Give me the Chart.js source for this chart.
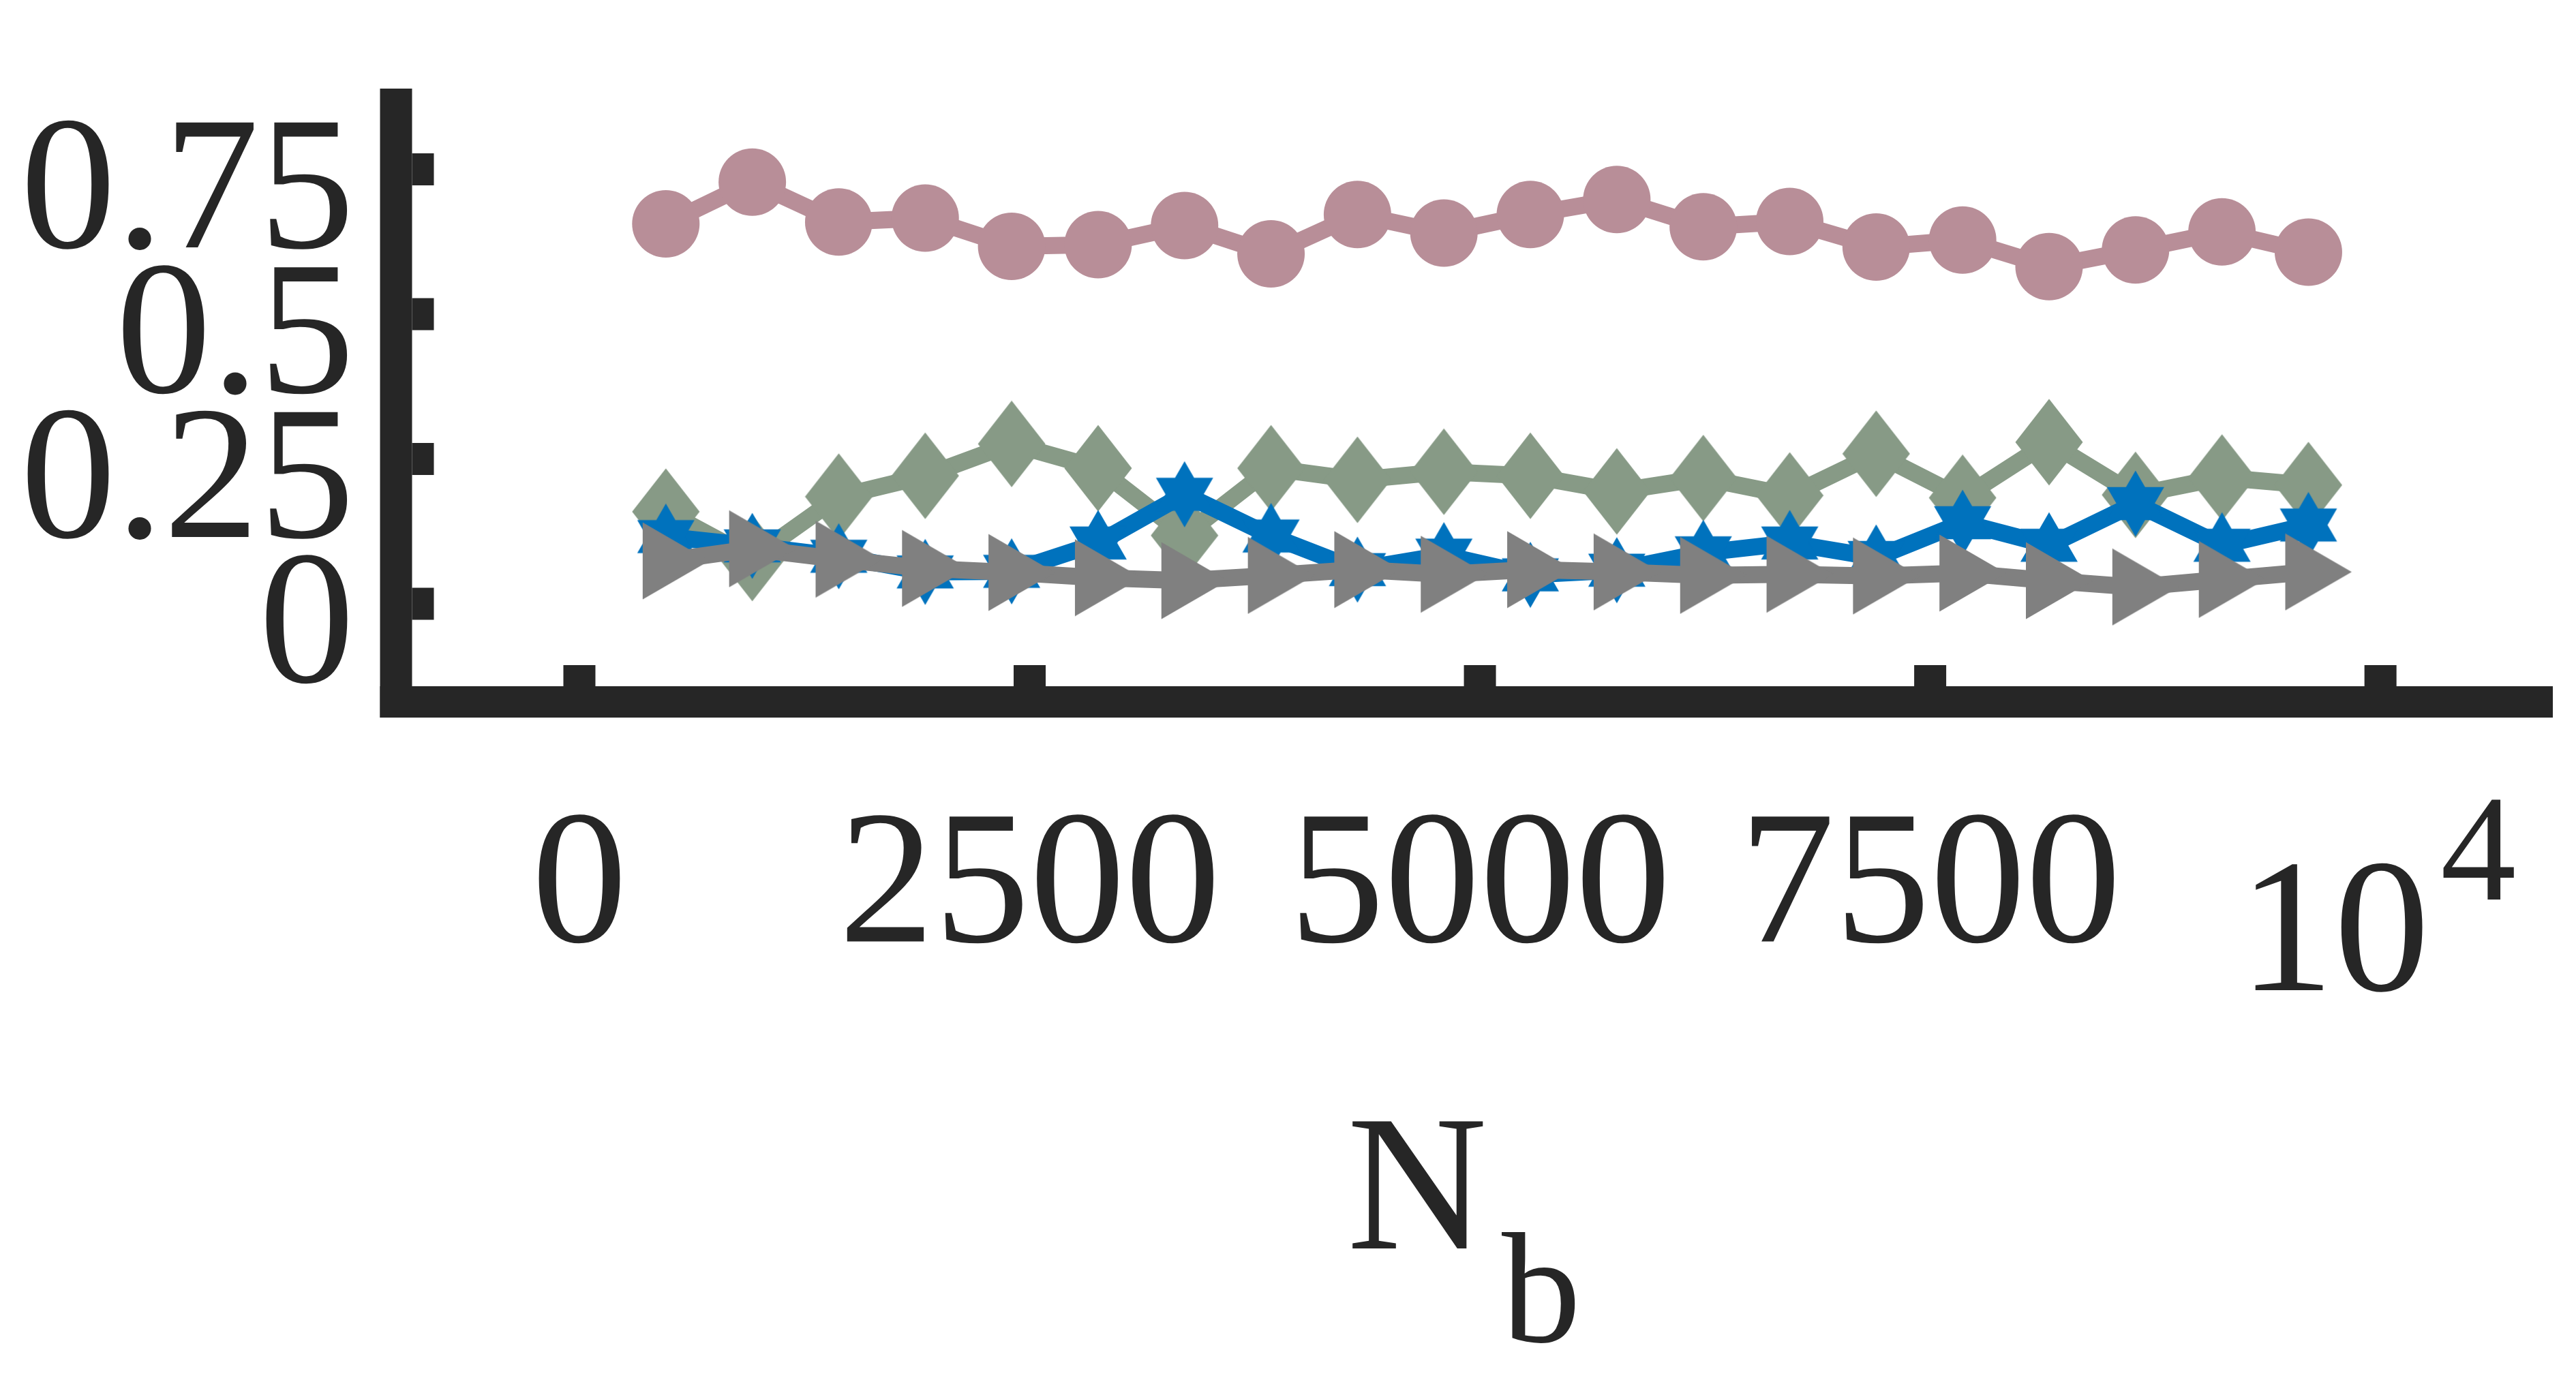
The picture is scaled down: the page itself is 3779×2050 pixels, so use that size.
<!DOCTYPE html>
<html><head><meta charset="utf-8">
<script src="https://cdn.jsdelivr.net/npm/chart.js@4.4.0/dist/chart.umd.min.js"></script>
<style>html,body{margin:0;padding:0;background:#fff;overflow:hidden}canvas{display:block}</style>
</head><body>
<canvas id="c" width="3779" height="2050" style="width:3779px;height:2050px"></canvas>
<script>
// ---- data ----
const nb = [480, 960, 1440, 1920, 2400, 2880, 3360, 3840, 4320, 4800, 5280, 5760, 6240, 6720, 7200, 7680, 8160, 8640, 9120, 9600];
const seriesCircle   = [0.656, 0.728, 0.659, 0.666, 0.617, 0.620, 0.653, 0.604, 0.672, 0.640, 0.672, 0.698, 0.651, 0.660, 0.616, 0.628, 0.582, 0.611, 0.642, 0.607];
const seriesDiamond  = [0.159, 0.079, 0.185, 0.221, 0.276, 0.234, 0.118, 0.234, 0.214, 0.228, 0.221, 0.194, 0.217, 0.187, 0.259, 0.183, 0.279, 0.188, 0.218, 0.205];
const seriesHexagram = [0.116, 0.100, 0.082, 0.055, 0.056, 0.105, 0.189, 0.117, 0.059, 0.084, 0.050, 0.058, 0.088, 0.105, 0.080, 0.140, 0.101, 0.173, 0.101, 0.136];
const seriesTriangle = [0.074, 0.095, 0.077, 0.061, 0.054, 0.045, 0.040, 0.049, 0.059, 0.051, 0.059, 0.055, 0.049, 0.051, 0.048, 0.053, 0.040, 0.029, 0.042, 0.055];
const xTicks = [0, 2500, 5000, 7500, 10000];
const xTickLabels = ['0', '2500', '5000', '7500', ''];
const xExponentBase = '10', xExponent = '4';
const yTicks = [0, 0.25, 0.5, 0.75];
const yTickLabels = ['0', '0.25', '0.5', '0.75'];
const xTitleMain = 'N', xTitleSub = 'b';

// ---- styles ----
const PINK = '#B88E98', GREEN = '#879A86', BLUE = '#0072BD', GRAY = '#808080', AXIS = '#262626';
const FONT = 'Liberation Serif';

function makeMarker(w, h, color, path) {
  const c = document.createElement('canvas');
  c.width = w; c.height = h;
  const g = c.getContext('2d');
  g.fillStyle = color; g.beginPath(); path(g); g.closePath(); g.fill();
  return c;
}
const diamondMk = makeMarker(100, 128, GREEN, g => { g.moveTo(50, 0.5); g.lineTo(99.5, 64); g.lineTo(50, 127.5); g.lineTo(0.5, 64); });
const hexMk = makeMarker(88, 98, BLUE, g => {
  const cx = 44, cy = 49, R = 48.5, r = R / Math.sqrt(3);
  for (let k = 0; k < 12; k++) {
    const a = -Math.PI / 2 + k * Math.PI / 6, rad = k % 2 === 0 ? R : r;
    const x = cx + rad * Math.cos(a), y = cy + rad * Math.sin(a);
    if (k) g.lineTo(x, y); else g.moveTo(x, y);
  }
});
const triMk = makeMarker(128, 114, GRAY, g => { g.moveTo(30, 0.5); g.lineTo(127.5, 57); g.lineTo(30, 113.5); });

function pts(ys) { return nb.map((x, i) => ({ x: x, y: ys[i] })); }

const axesPlugin = {
  id: 'axesPlugin',
  afterDraw(chart) {
    const ctx = chart.ctx, ca = chart.chartArea, xs = chart.scales.x, ys = chart.scales.y;
    ctx.save();
    ctx.fillStyle = AXIS;
    ctx.fillRect(ca.left - 23.5, ca.top, 47, ca.bottom + 23 - ca.top);
    ctx.fillRect(ca.left - 23.5, ca.bottom - 23, ca.right - ca.left + 23.5, 46);
    yTicks.forEach(v => { const p = ys.getPixelForValue(v); ctx.fillRect(ca.left + 23.5, p - 23.5, 32, 47); });
    xTicks.forEach(v => { const p = xs.getPixelForValue(v); ctx.fillRect(p - 23.5, ca.bottom - 23 - 31, 47, 31); });
    // exponent label at the last tick
    const pe = xs.getPixelForValue(xTicks[xTicks.length - 1]);
    ctx.textAlign = 'left'; ctx.textBaseline = 'alphabetic';
    ctx.font = '280px "' + FONT + '"';
    ctx.fillText(xExponentBase, pe - 208, ca.bottom + 423);
    ctx.font = '222px "' + FONT + '"';
    ctx.fillText(xExponent, pe + 88, ca.bottom + 290);
    // axis title N_b
    const cx = (ca.left + ca.right) / 2;
    ctx.font = '285px "' + FONT + '"';
    ctx.fillText(xTitleMain, cx - 187, ca.bottom + 802);
    ctx.font = '232px "' + FONT + '"';
    ctx.fillText(xTitleSub, cx + 40, ca.bottom + 939);
    ctx.restore();
  }
};

new Chart(document.getElementById('c'), {
  type: 'line',
  data: {
    datasets: [
      { data: pts(seriesTriangle), borderColor: GRAY, backgroundColor: GRAY, borderWidth: 25, pointStyle: triMk, pointRadius: 50, pointBorderWidth: 0, order: 1 },
      { data: pts(seriesHexagram), borderColor: BLUE, backgroundColor: BLUE, borderWidth: 25, pointStyle: hexMk, pointRadius: 50, pointBorderWidth: 0, order: 2 },
      { data: pts(seriesDiamond), borderColor: GREEN, backgroundColor: GREEN, borderWidth: 25, pointStyle: diamondMk, pointRadius: 50, pointBorderWidth: 0, order: 3 },
      { data: pts(seriesCircle), borderColor: PINK, backgroundColor: PINK, pointBackgroundColor: PINK, borderWidth: 25, pointStyle: 'circle', pointRadius: 49.5, pointBorderWidth: 0, order: 4 }
    ]
  },
  options: {
    responsive: false, animation: false, devicePixelRatio: 1,
    layout: { autoPadding: false, padding: { left: 0, right: 34, top: 130, bottom: 0 } },
    elements: { line: { tension: 0 } },
    plugins: { legend: { display: false }, tooltip: { enabled: false } },
    events: [],
    scales: {
      x: {
        type: 'linear', min: -1018, max: 10957,
        afterBuildTicks: s => { s.ticks = xTicks.map(v => ({ value: v })); },
        afterFit: s => { s.height = 1020; s.paddingLeft = 0; s.paddingRight = 0; },
        grid: { display: false, drawTicks: false }, border: { display: false },
        ticks: { autoSkip: false, maxRotation: 0, minRotation: 0, padding: 110, color: AXIS,
          font: { family: FONT, size: 280 },
          callback: v => { const i = xTicks.indexOf(v); return i >= 0 ? xTickLabels[i] : ''; } }
      },
      y: {
        type: 'linear', min: -0.1694, max: 0.8894,
        afterBuildTicks: s => { s.ticks = yTicks.map(v => ({ value: v })); },
        afterFit: s => { s.width = 581; s.paddingTop = 0; s.paddingBottom = 0; },
        grid: { display: false, drawTicks: false }, border: { display: false },
        ticks: { autoSkip: false, padding: 61, labelOffset: 41, color: AXIS,
          font: { family: FONT, size: 280 },
          callback: v => { const i = yTicks.indexOf(v); return i >= 0 ? yTickLabels[i] : ''; } }
      }
    }
  },
  plugins: [axesPlugin]
});
</script>
</body></html>
